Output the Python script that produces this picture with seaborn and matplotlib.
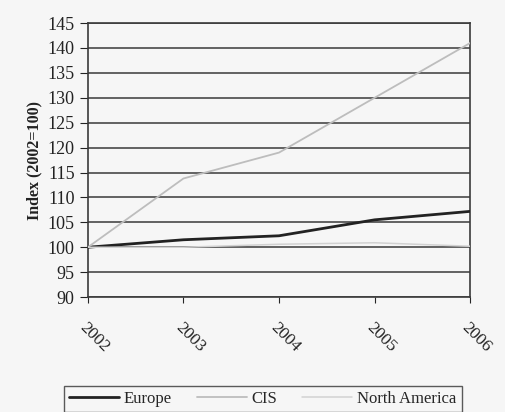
import pandas as pd
import matplotlib
matplotlib.use("Agg")
import matplotlib.pyplot as plt
import seaborn as sns
from matplotlib.lines import Line2D

sns.set_style("white")
plt.rcParams['font.family'] = ['Liberation Serif', 'DejaVu Serif']

# 데이터
years = [2002, 2003, 2004, 2005, 2006]
europe = [100, 101.5, 102.3, 105.5, 107.2]
cis = [100, 113.8, 119, 130, 141]
north_america = [100, 100, 100.6, 100.9, 100.2]
series_names = ["Europe", "CIS", "North America"]

df = pd.DataFrame({
    "year": years * 3,
    "index": europe + cis + north_america,
    "region": [series_names[0]] * 5 + [series_names[1]] * 5 + [series_names[2]] * 5,
})

bg = "#f6f6f6"
fig = plt.figure(figsize=(5.05, 4.12), dpi=100, facecolor=bg)
ax = fig.add_axes([0.174, 0.279, 0.757, 0.665])
ax.set_facecolor(bg)

# 가로 격자선
for v in range(90, 146, 5):
    ax.axhline(v, color="#3a3a3a", lw=1.1, zorder=0)

palette = {"Europe": "#222222", "CIS": "#bdbdbd", "North America": "#d2d2d2"}
sizes = {"Europe": 2.0, "CIS": 1.3, "North America": 1.1}
sns.lineplot(data=df, x="year", y="index", hue="region", palette=palette,
             size="region", sizes=sizes, ax=ax, legend=False, zorder=3)

ax.set_xlim(2002, 2006)
ax.set_ylim(90, 145)
ax.set_yticks(range(90, 146, 5))
ax.set_xticks(years)
ax.set_xticklabels([str(y) for y in years], rotation=-45, ha="left", va="top",
                   rotation_mode="anchor", fontsize=12.5, color="#222222")
ax.tick_params(axis="y", labelsize=13, colors="#222222", length=6, direction="out", left=True)
ax.tick_params(axis="x", length=4, direction="out", bottom=True, pad=12)
ax.set_xlabel("")
ax.set_ylabel("Index (2002=100)", fontsize=11.5, fontweight="bold", color="#222222")

for s in ax.spines.values():
    s.set_color("#3a3a3a")
    s.set_linewidth(1.2)

# 범례
handles = [Line2D([], [], color=palette[n], lw=sizes[n]) for n in series_names]
leg = fig.legend(handles, series_names, loc="lower center", bbox_to_anchor=(0.52, -0.02),
                 ncol=3, frameon=True, fontsize=12, fancybox=False, edgecolor="#333333",
                 handlelength=3.0, handletextpad=0.3, columnspacing=1.5, borderpad=0.3)
leg.get_frame().set_facecolor(bg)

fig.savefig("out.png", dpi=100, facecolor=bg)
